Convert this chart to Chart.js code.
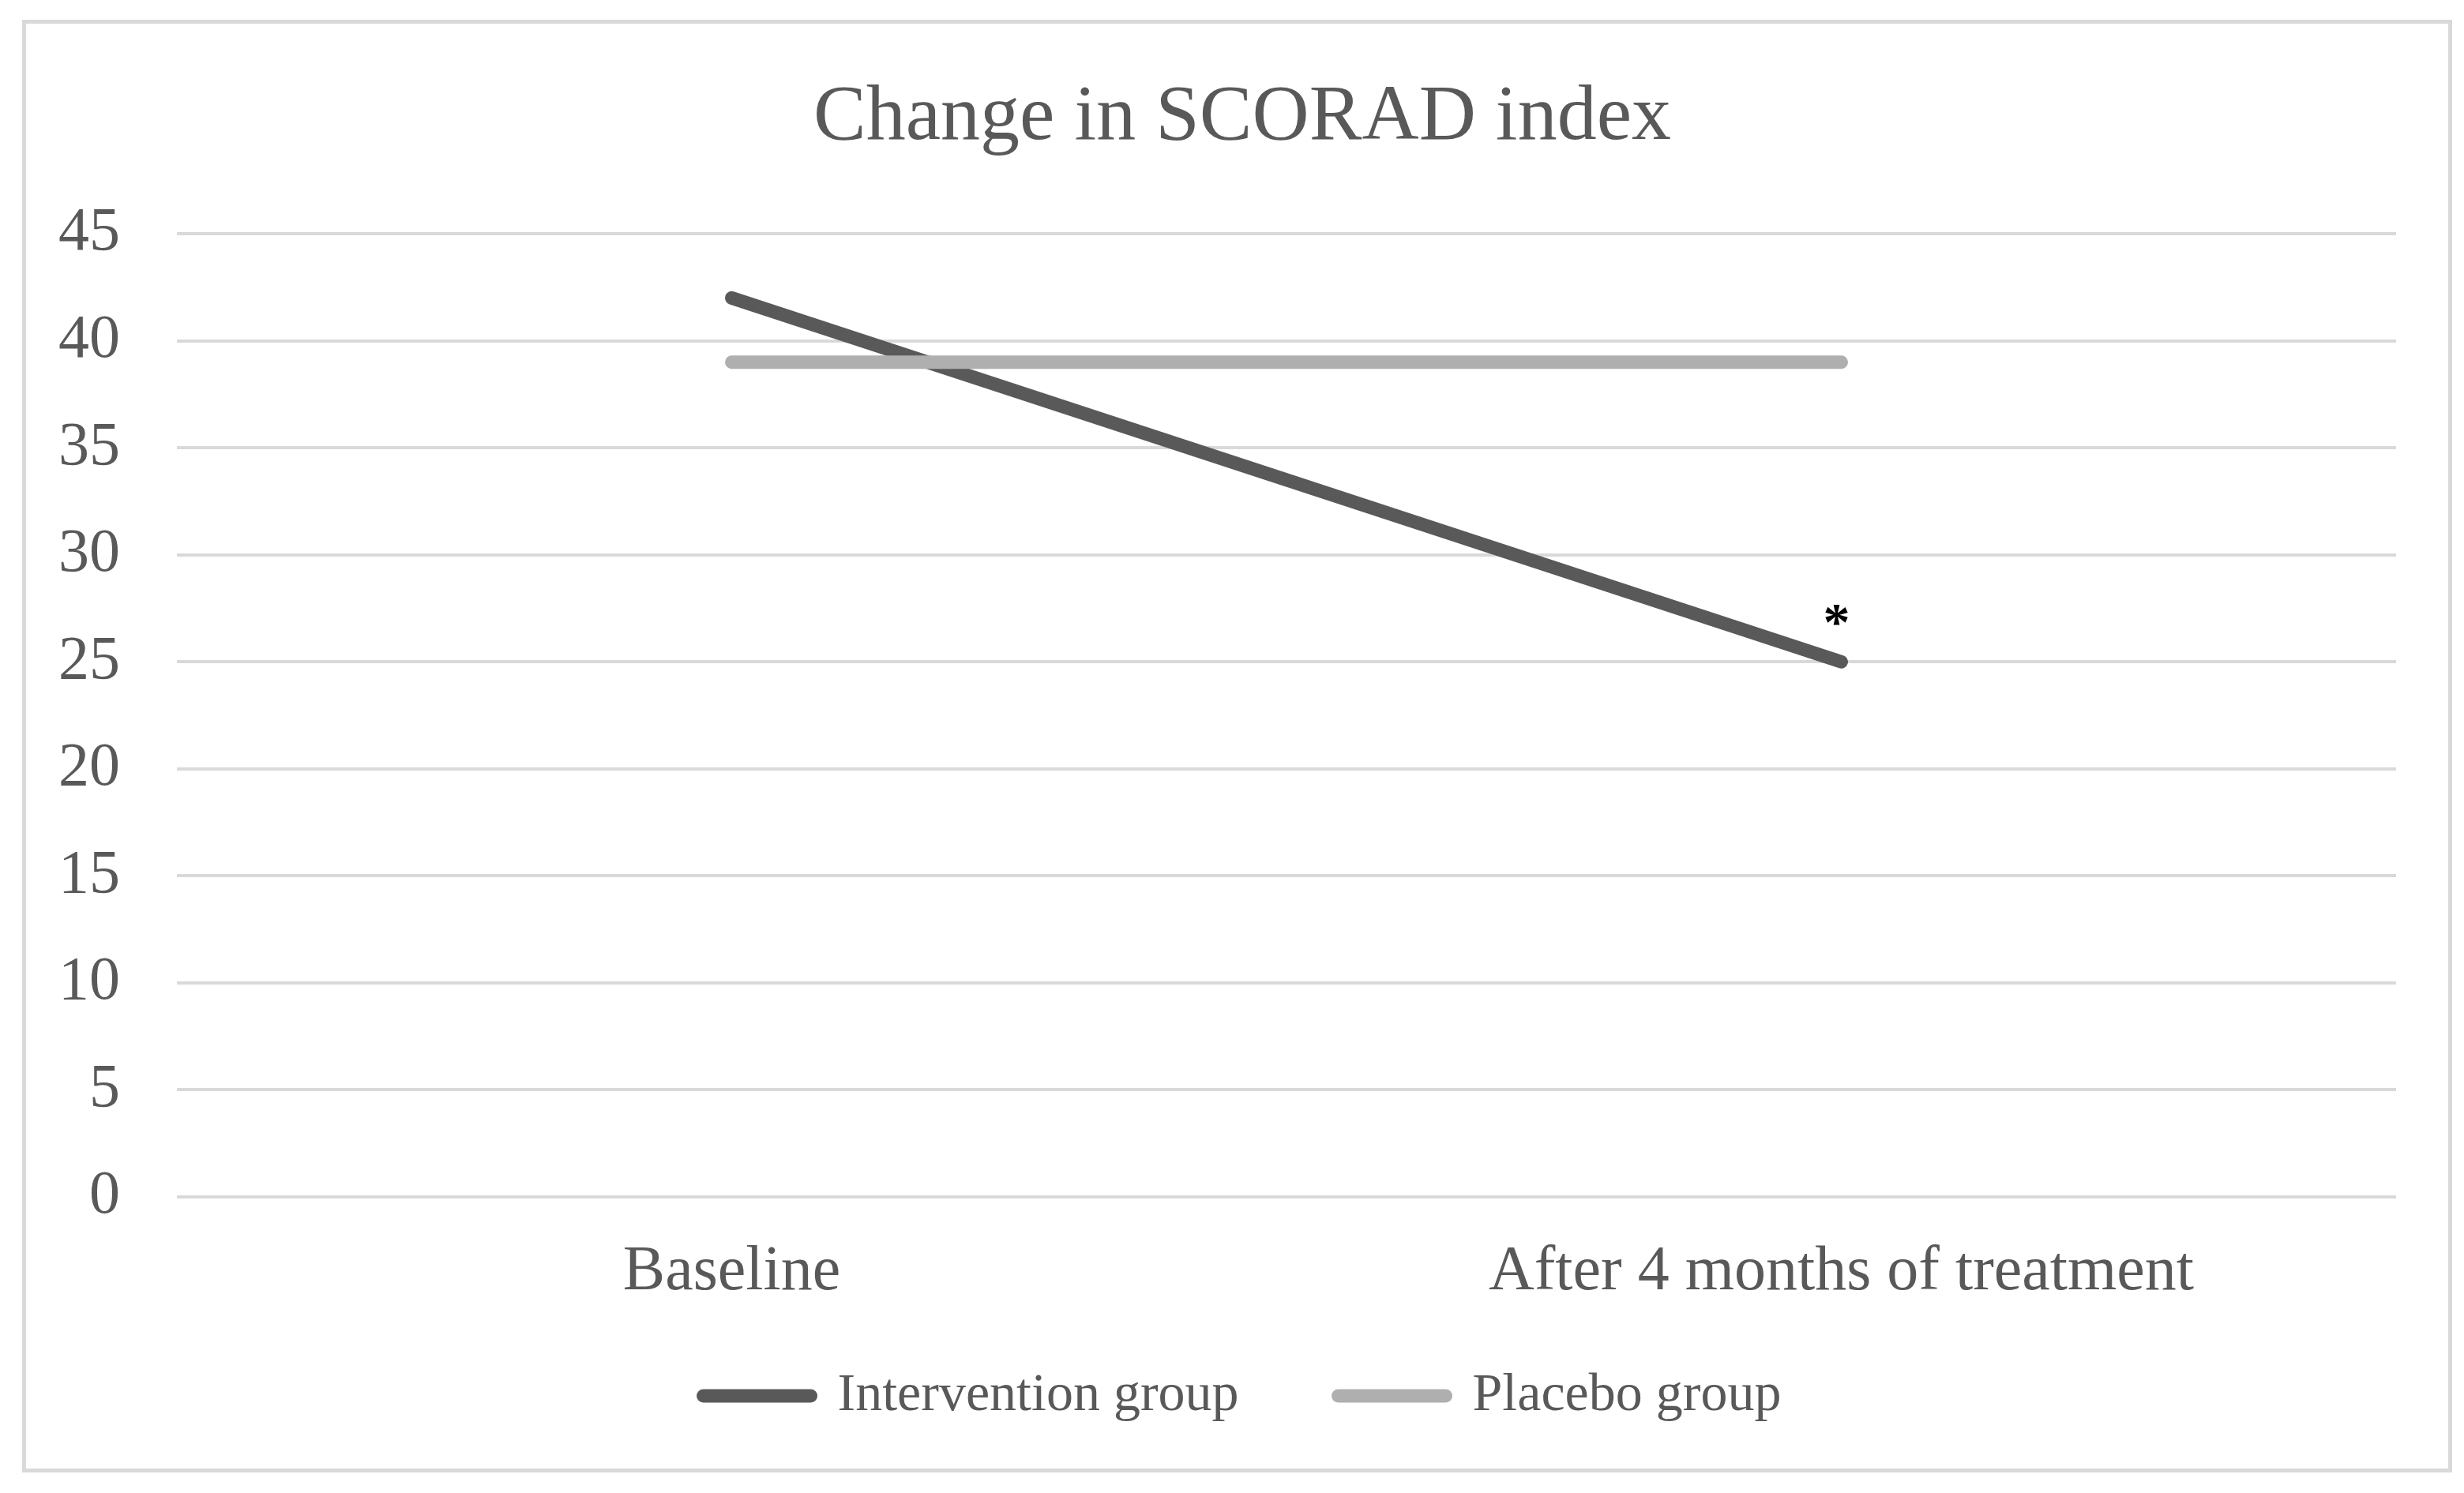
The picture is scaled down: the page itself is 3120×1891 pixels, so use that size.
<!DOCTYPE html>
<html>
<head>
<meta charset="utf-8">
<script src="https://cdn.jsdelivr.net/npm/chart.js@4/dist/chart.umd.min.js"></script>
<style>
  html, body { margin: 0; padding: 0; background: #fff; }
  #chart { display: block; width: 3120px; height: 1891px; }
</style>
</head>
<body>
<canvas id="chart" width="3120" height="1891"></canvas>
<script>
// ── data ───────────────────────────────────────
const timepoints   = ['Baseline', 'After 4 months of treatment'];
const intervention = [42, 25];
const placebo      = [39, 39];
const yTicks       = [0, 5, 10, 15, 20, 25, 30, 35, 40, 45];
const marks        = [{ index: 1, text: '*' }]; // significance marker on the intervention series

const FONT  = 'Liberation Serif';
const TEXT  = '#595959';
const GRID  = '#d9d9d9';

// white background + outer frame
const framePlugin = {
  id: 'frame',
  beforeDraw(chart) {
    const ctx = chart.ctx;
    ctx.save();
    ctx.fillStyle = '#fff';
    ctx.fillRect(0, 0, chart.width, chart.height);
    ctx.strokeStyle = GRID;
    ctx.lineWidth = 5;
    ctx.strokeRect(30.5, 27.5, 3072, 1835);
    ctx.restore();
  },
};

// centre title + legend on the frame, pull legend up under the axis labels
const boxPlugin = {
  id: 'boxes',
  afterLayout(chart) {
    const { chartArea, legend, titleBlock } = chart;
    [legend, titleBlock].forEach(b => {
      b.left = 112;
      b.right = chartArea.right;
      b.width = b.right - b.left;
    });
    legend.top = chartArea.bottom + 92;
    legend.bottom = legend.top + 230;
    legend.height = 230;
  },
};

// asterisk above the last intervention point
const markPlugin = {
  id: 'marks',
  afterDatasetsDraw(chart) {
    const { ctx, scales: { x, y } } = chart;
    ctx.save();
    ctx.fillStyle = '#000';
    ctx.font = `bold 68px "${FONT}"`;
    ctx.textAlign = 'center';
    ctx.textBaseline = 'middle';
    marks.forEach(m => {
      ctx.fillText(m.text, x.getPixelForValue(m.index) - 6, y.getPixelForValue(intervention[m.index]) - 46);
    });
    ctx.restore();
  },
};

const legendLabels = chart =>
  Chart.defaults.plugins.legend.labels.generateLabels(chart)
    .map(l => ({ ...l, lineCap: 'round', lineWidth: 17 }));

new Chart(document.getElementById('chart'), {
  type: 'line',
  data: {
    labels: timepoints,
    datasets: [
      {
        label: 'Intervention group',
        data: intervention,
        borderColor: '#595959',
        backgroundColor: '#595959',
        borderWidth: 17,
        borderCapStyle: 'round',
        pointRadius: 0,
        order: 2,
      },
      {
        label: 'Placebo group',
        data: placebo,
        borderColor: '#afafaf',
        backgroundColor: '#afafaf',
        borderWidth: 17,
        borderCapStyle: 'round',
        pointRadius: 0,
        order: 1,
      },
    ],
  },
  options: {
    responsive: false,
    devicePixelRatio: 1,
    animation: false,
    layout: { padding: { top: 50, left: 68, right: 86, bottom: 79 } },
    plugins: {
      title: {
        display: true,
        text: 'Change in SCORAD index',
        color: TEXT,
        font: { family: FONT, size: 100, weight: 'normal', lineHeight: 1.2 },
        padding: { top: 40, bottom: 86 },
      },
      legend: {
        position: 'bottom',
        maxHeight: 146,
        labels: {
          usePointStyle: true,
          pointStyle: 'line',
          pointStyleWidth: 136,
          color: TEXT,
          font: { family: FONT, size: 68 },
          padding: 126,
          generateLabels: legendLabels,
          sort: (a, b) => a.datasetIndex - b.datasetIndex,
        },
      },
      tooltip: { enabled: false },
    },
    scales: {
      x: {
        offset: true,
        grid: { display: false, drawTicks: false },
        border: { display: false },
        ticks: {
          color: TEXT,
          font: { family: FONT, size: 80, lineHeight: 1 },
          padding: 56,
          maxRotation: 0,
        },
        afterFit: axis => { axis.height = 150; },
      },
      y: {
        min: yTicks[0],
        max: yTicks[yTicks.length - 1],
        afterBuildTicks: axis => { axis.ticks = yTicks.map(v => ({ value: v })); },
        grid: { color: GRID, lineWidth: 4, drawTicks: false },
        border: { display: false },
        ticks: {
          color: TEXT,
          font: { family: FONT, size: 78 },
          padding: 72,
        },
        afterFit: axis => { axis.width = 156; },
      },
    },
  },
  plugins: [framePlugin, boxPlugin, markPlugin],
});
</script>
</body>
</html>
